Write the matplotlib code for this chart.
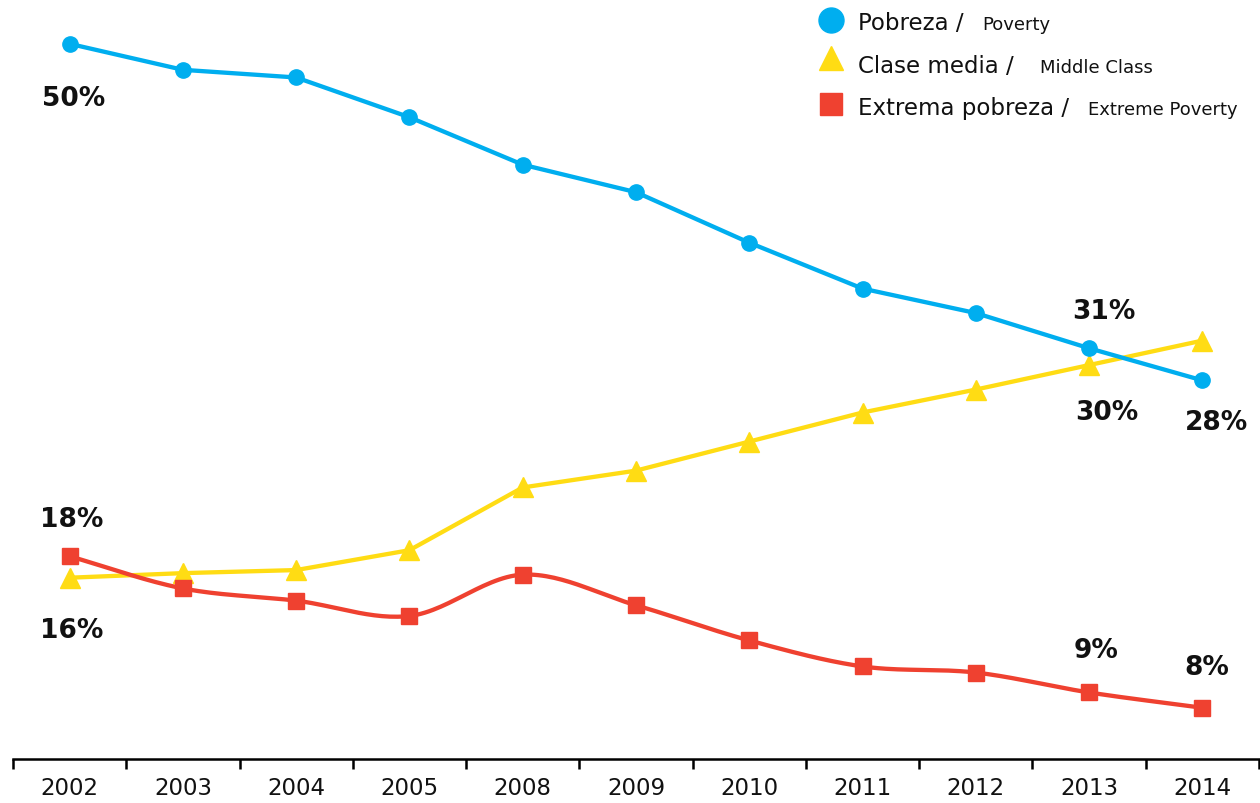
import numpy as np
import matplotlib.pyplot as plt
from matplotlib.ticker import FixedLocator

years = ['2002', '2003', '2004', '2005', '2008', '2009', '2010', '2011', '2012', '2013', '2014']
pobreza = [50.8, 49.1, 48.6, 46.0, 42.9, 41.1, 37.8, 34.8, 33.2, 30.9, 28.8]
clase_media = [15.9, 16.2, 16.4, 17.7, 21.8, 22.9, 24.8, 26.7, 28.2, 29.8, 31.4]
extrema = [17.3, 15.2, 14.4, 13.4, 16.1, 14.1, 11.8, 10.1, 9.7, 8.4, 7.4]

BLUE = '#00aeef'
YELLOW = '#ffdc14'
RED = '#ef4130'
INK = '#111111'


def catmull_rom(x, y, n=30):
    # smooth curve through the points (for the extreme poverty line)
    x = np.asarray(x, float)
    y = np.asarray(y, float)
    px = np.concatenate([[2 * x[0] - x[1]], x, [2 * x[-1] - x[-2]]])
    py = np.concatenate([[2 * y[0] - y[1]], y, [2 * y[-1] - y[-2]]])
    xs, ys = [], []
    t = np.linspace(0, 1, n)
    for i in range(1, len(px) - 2):
        for arr, out in ((px, xs), (py, ys)):
            p0, p1, p2, p3 = arr[i - 1], arr[i], arr[i + 1], arr[i + 2]
            out.extend(0.5 * ((2 * p1) + (-p0 + p2) * t
                              + (2 * p0 - 5 * p1 + 4 * p2 - p3) * t ** 2
                              + (-p0 + 3 * p1 - 3 * p2 + p3) * t ** 3))
    return xs, ys


fig = plt.figure(figsize=(12.6, 8.04), dpi=100)
ax = fig.add_axes([13 / 1260, 44 / 804, 1246 / 1260, 760 / 804])

x = np.arange(len(years))
ax.plot(x, pobreza, color=BLUE, lw=3.1, marker='o', ms=11, zorder=3)
ax.plot(x, clase_media, color=YELLOW, lw=3.1, marker='^', ms=15, zorder=2)
sx, sy = catmull_rom(x, extrema)
ax.plot(sx, sy, color=RED, lw=3.1, zorder=2)
ax.plot(x, extrema, ls='none', color=RED, marker='s', ms=12, zorder=3)

ax.set_xlim(-0.5, 10.5)
ax.set_ylim(4.05, 53.73)
for s in ['top', 'left', 'right']:
    ax.spines[s].set_visible(False)
ax.spines['bottom'].set_linewidth(1.8)
ax.set_yticks([])
ax.set_xticks(x)
ax.set_xticklabels(years, fontsize=16.5, family='DejaVu Sans')
ax.xaxis.set_minor_locator(FixedLocator(np.arange(-0.5, 11, 1)))
ax.tick_params(axis='x', which='major', length=0, pad=12, colors=INK)
ax.tick_params(axis='x', which='minor', length=7, width=1.8, direction='out')

# value labels
lab = dict(fontsize=19, fontweight='bold', family='DejaVu Sans', color=INK,
           ha='center', va='center', textcoords='offset pixels')
ax.annotate('50%', (0, pobreza[0]), xytext=(4, -54), **lab)
ax.annotate('31%', (9, pobreza[9]), xytext=(15, 37), **lab)
ax.annotate('28%', (10, pobreza[10]), xytext=(14, -42), **lab)
ax.annotate('30%', (9, clase_media[9]), xytext=(18, -47), **lab)
ax.annotate('18%', (0, extrema[0]), xytext=(2, 37), **lab)
ax.annotate('16%', (0, clase_media[0]), xytext=(2, -52), **lab)
ax.annotate('9%', (9, extrema[9]), xytext=(7, 42), **lab)
ax.annotate('8%', (10, extrema[10]), xytext=(4, 41), **lab)

# legend drawn by hand
def fx(px):
    return px / 1260


def fy(py):
    return 1 - py / 804


rows = [
    ('o', BLUE, 18, 21, 'Pobreza /', 'Poverty', 982, 30),
    ('^', YELLOW, 17, 59, 'Clase media /', 'Middle Class', 1040, 73),
    ('s', RED, 16, 105, 'Extrema pobreza /', 'Extreme Poverty', 1088, 115),
]
for mk, col, ms, yc, big, small, sx0, base in rows:
    fig.lines.append(plt.Line2D([fx(831)], [fy(yc)], marker=mk, color=col, ms=ms,
                                ls='none', transform=fig.transFigure))
    fig.text(fx(858), fy(base), big, fontsize=16.5, family='DejaVu Sans',
             va='baseline', color=INK)
    fig.text(fx(sx0), fy(base), small, fontsize=13, family='DejaVu Sans',
             va='baseline', color=INK)

fig.savefig('out.png', dpi=100)
